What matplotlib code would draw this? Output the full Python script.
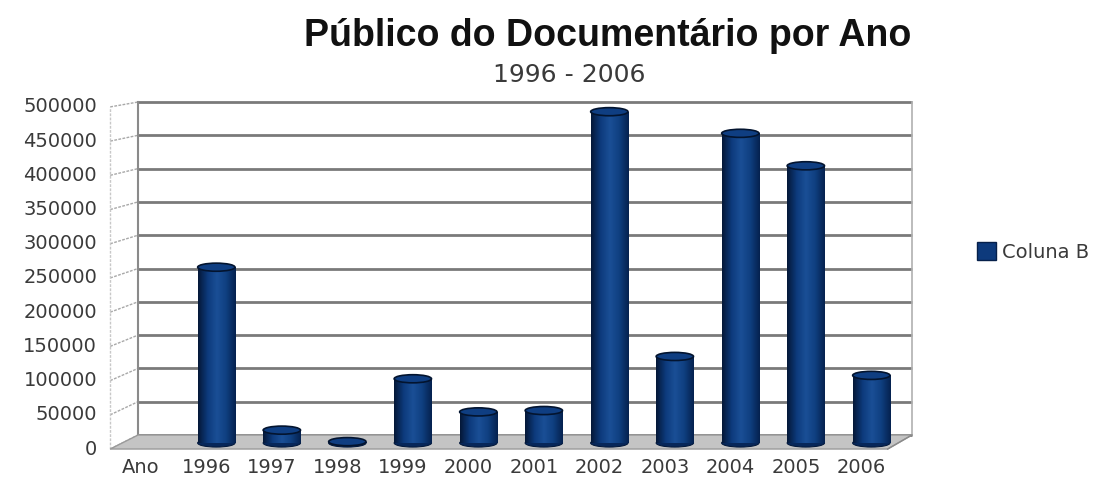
import numpy as np
import matplotlib.pyplot as plt
from matplotlib.patches import Ellipse, Polygon, Patch
from matplotlib.colors import LinearSegmentedColormap

# data
categories = ['Ano', '1996', '1997', '1998', '1999', '2000', '2001',
              '2002', '2003', '2004', '2005', '2006']
publico = [None, 260000, 19000, 2000, 95000, 46000, 48000,
           490000, 128000, 458000, 410000, 100000]
y_ticks = list(range(0, 500001, 50000))

title = 'Público do Documentário por Ano'
subtitle = '1996 - 2006'
series_name = 'Coluna B'

# pseudo-3d geometry (data units)
x0_px = 141.0        # pixel of first category
px_x = 65.5          # pixels per category
px_y = 1479.0        # value per pixel
bar_w = 0.57
bar_shift = 0.15     # bars sit a bit deeper than the labels
cap_h = 12000
front_dx, back_dx = -0.47, -0.046
right_front, right_back = 11.4, 11.77


def back_y(v):
    return 11800 + v * 0.985


def front_y(v):
    return -8900 + v * 1.012


fig = plt.figure(figsize=(10.98, 4.9), dpi=100)
fig.patch.set_facecolor('white')
ax = fig.add_axes([0, 0, 1, 1])
ax.set_axis_off()

# floor
floor = Polygon([(front_dx, front_y(0)), (right_front, front_y(0)),
                 (right_back, back_y(0)), (back_dx, back_y(0))],
                closed=True, facecolor='#c4c4c4', edgecolor='#9a9a9a', lw=1, zorder=1)
ax.add_patch(floor)

# back wall grid + left wall slants
for v in y_ticks:
    ax.plot([back_dx, right_back], [back_y(v), back_y(v)], color='#7a7a7a', lw=2, zorder=0.5,
            solid_capstyle='butt')
    ax.plot([front_dx, back_dx], [front_y(v), back_y(v)], color='#a8a8a8', lw=1,
            ls=(0, (2, 1)), zorder=0.5)
    ax.text(-0.67, front_y(v), f'{v}', ha='right', va='center', fontsize=14,
            color='#3a3a3a', family='DejaVu Sans')
ax.plot([back_dx, back_dx], [back_y(0), back_y(500000)], color='#8a8a8a', lw=1.5, zorder=0.6)
ax.plot([right_back, right_back], [back_y(0), back_y(500000)], color='#b0b0b0', lw=1.2, zorder=0.6)
ax.plot([front_dx, front_dx], [front_y(0), front_y(500000)], color='#c8c8c8', lw=1,
        ls=(0, (2, 1)), zorder=0.6)
ax.plot([right_front, right_back], [front_y(0), back_y(0)], color='#8a8a8a', lw=1, zorder=1.1)

# cylinders
cmap = LinearSegmentedColormap.from_list('cyl', ['#041838', '#0d3a7c', '#1a4f96',
                                                 '#0f3f80', '#05224f'])
grad = np.linspace(0, 1, 64).reshape(1, -1)
for i, v in enumerate(publico):
    if v is None:
        continue
    xc = i + bar_shift
    bot = Ellipse((xc, 0), bar_w, cap_h, facecolor='#07275a', edgecolor='#041a3d',
                  lw=0.8, zorder=2)
    ax.add_patch(bot)
    rect = ax.bar(xc, v, width=bar_w, bottom=0, color='#0d3a7c', lw=0, zorder=3)[0]
    im = ax.imshow(grad, cmap=cmap, aspect='auto', zorder=3.1,
                   extent=(xc - bar_w / 2, xc + bar_w / 2, 0, v))
    im.set_clip_path(rect)
    top = Ellipse((xc, v), bar_w, cap_h, facecolor='#0f3e82', edgecolor='#03142f',
                  lw=1.2, zorder=4)
    ax.add_patch(top)

# category labels
for i, c in enumerate(categories):
    ax.text(i, -35500, c, ha='center', va='center', fontsize=14,
            color='#3a3a3a', family='DejaVu Sans')

ax.set_xlim(-x0_px / px_x, (1098 - x0_px) / px_x)
ax.set_ylim((443 - 490) * px_y, 443 * px_y)

fig.text(608 / 1098, 1 - 36 / 490, title, ha='center', va='center', fontsize=27,
         fontweight='bold', family='Liberation Sans', color='#111111')
fig.text(569 / 1098, 1 - 75 / 490, subtitle, ha='center', va='center', fontsize=18,
         family='DejaVu Sans', color='#3a3a3a')

leg = fig.legend([Patch(facecolor='#0d3a7c', edgecolor='#06204a')], [series_name],
                 loc='center left', bbox_to_anchor=(977 / 1098, 1 - 252 / 490),
                 frameon=False, fontsize=14, handlelength=1.0, handleheight=1.0,
                 handletextpad=0.3, borderaxespad=0, borderpad=0)
for t in leg.get_texts():
    t.set_color('#3a3a3a')

fig.savefig('out.png', dpi=100, facecolor='white')
